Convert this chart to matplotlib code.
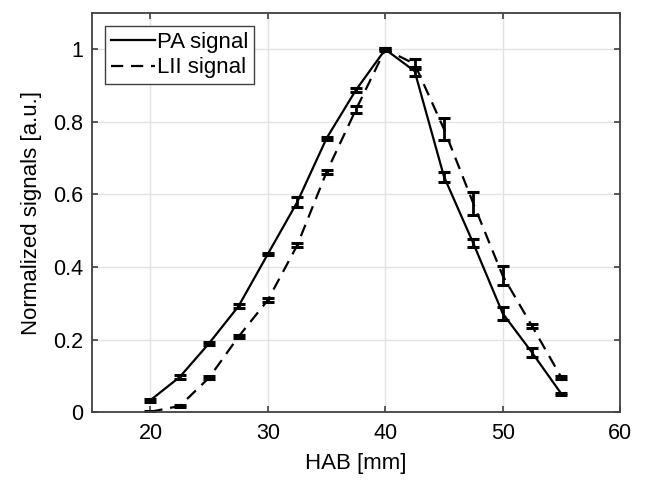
import matplotlib
matplotlib.use("Agg")
import matplotlib.pyplot as plt
from matplotlib.lines import Line2D

plt.rcParams['font.family'] = ['Liberation Sans', 'DejaVu Sans']

hab = [20, 22.5, 25, 27.5, 30, 32.5, 35, 37.5, 40, 42.5, 45, 47.5, 50, 52.5, 55]

pa_signal = [0.033, 0.097, 0.19, 0.292, 0.436, 0.579, 0.755, 0.888, 1.0,
             0.94, 0.649, 0.465, 0.272, 0.164, 0.05]
pa_err = [0.004, 0.005, 0.004, 0.005, 0.004, 0.014, 0.004, 0.005, 0.004,
          0.012, 0.014, 0.011, 0.018, 0.012, 0.004]

lii_signal = [0.001, 0.017, 0.095, 0.208, 0.309, 0.46, 0.662, 0.834, 1.0,
              0.96, 0.78, 0.575, 0.376, 0.237, 0.095]
lii_err = [0.003, 0.003, 0.005, 0.004, 0.006, 0.006, 0.006, 0.01, 0.003,
           0.013, 0.03, 0.032, 0.026, 0.005, 0.005]

fig = plt.figure(figsize=(6.46, 4.86), dpi=100)
ax = fig.add_axes([0.142, 0.152, 0.818, 0.821])

dash = (0, (5.5, 3.5))
ax.errorbar(hab, pa_signal, yerr=pa_err, color='black', linestyle='-',
            linewidth=1.6, elinewidth=2, capsize=4.3, capthick=2.2)
ax.errorbar(hab, lii_signal, yerr=lii_err, color='black', linestyle=dash,
            linewidth=1.6, elinewidth=2, capsize=4.3, capthick=2.2)

ax.set_xlim(15, 60)
ax.set_ylim(0, 1.1)
ax.set_xticks([20, 30, 40, 50, 60])
ax.set_yticks([0, 0.2, 0.4, 0.6, 0.8, 1])
ax.set_yticklabels(['0', '0.2', '0.4', '0.6', '0.8', '1'])

# MATLAB-like grid and box
ax.grid(True, color='#e3e3e3', linewidth=1)
ax.set_axisbelow(True)
for sp in ax.spines.values():
    sp.set_color('#404040')
    sp.set_linewidth(1.3)
ax.tick_params(direction='in', length=4, width=1.2, colors='#404040',
               labelcolor='black', labelsize=15.5, top=True, right=True)
ax.tick_params(axis='y', pad=6)
ax.tick_params(axis='x', pad=8)

ax.set_xlabel('HAB [mm]', fontsize=16, labelpad=6)
ax.set_ylabel('Normalized signals [a.u.]', fontsize=16, labelpad=8)

handles = [Line2D([], [], color='black', linewidth=1.6, linestyle='-'),
           Line2D([], [], color='black', linewidth=1.6, linestyle=dash)]
leg = ax.legend(handles, ['PA signal', 'LII signal'], loc='upper left',
                fontsize=16, fancybox=False, framealpha=1,
                edgecolor='#404040', handlelength=2.0, handletextpad=0.1,
                borderpad=0.25, labelspacing=0.2, borderaxespad=0.6)
leg.get_frame().set_linewidth(1.0)

fig.savefig('out.png', dpi=100)
